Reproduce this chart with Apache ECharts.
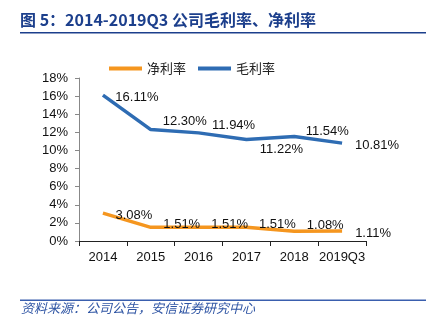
<!DOCTYPE html>
<html>
<head>
<meta charset="utf-8">
<script src="https://cdn.jsdelivr.net/npm/echarts@6/dist/echarts.min.js"></script>
<style>
  html, body { margin: 0; padding: 0; background: #fff; }
  #chart { width: 431px; height: 327px; }
</style>
</head>
<body>
<div id="chart"></div>
<script>
// Margin history, in percent
const years = ['2014', '2015', '2016', '2017', '2018', '2019Q3'];
const netMargin = [3.08, 1.51, 1.51, 1.51, 1.08, 1.11];
const grossMargin = [16.11, 12.30, 11.94, 11.22, 11.54, 10.81];
const yTicks = { min: 0, max: 18, step: 2 };

// Label placement relative to each point (px)
const grossLabelShift = [[34, 2], [34, -8], [35, -7], [35, 10], [33, -5], [35, 2]];
const netLabelShift = [[31, 2], [31, -3], [31, -3], [31, -3], [31, -6], [31, 2]];

const ORANGE = '#f5961f';
const BLUE = '#2e6cb3';
const TITLE_BLUE = '#1c3f8c';
const FONT = 'Liberation Sans, Arial, sans-serif';
const CJK = '"Noto Sans CJK SC", sans-serif';

function withLabels(values, shifts) {
  return values.map((v, i) => ({
    value: v,
    label: { offset: shifts[i] }
  }));
}

const chart = echarts.init(document.getElementById('chart'), null, { renderer: 'canvas' });

chart.setOption({
  animation: false,
  backgroundColor: '#fff',
  grid: { left: 79, right: 65, top: 78, bottom: 86, containLabel: false },
  legend: {
    left: 104,
    top: 57,
    itemWidth: 33,
    itemHeight: 4,
    itemGap: 12,
    icon: 'rect',
    textStyle: { fontFamily: CJK, fontSize: 13, color: '#222' },
    data: ['净利率', '毛利率']
  },
  xAxis: {
    type: 'category',
    data: years,
    boundaryGap: true,
    axisLine: { lineStyle: { color: '#222', width: 1 } },
    axisTick: { show: true, length: 5, interval: 0, lineStyle: { color: '#222' } },
    axisLabel: { interval: 0, fontFamily: FONT, fontSize: 13, color: '#111', margin: 10 }
  },
  yAxis: {
    type: 'value',
    min: yTicks.min,
    max: yTicks.max,
    interval: yTicks.step,
    axisLine: { show: true, lineStyle: { color: '#888', width: 1 } },
    axisTick: { show: true, inside: false, length: 4, lineStyle: { color: '#888' } },
    splitLine: { show: false },
    axisLabel: {
      fontFamily: FONT, fontSize: 13, color: '#111', margin: 11,
      formatter: v => v + '%'
    }
  },
  series: [
    {
      name: '净利率',
      type: 'line',
      data: withLabels(netMargin, netLabelShift),
      symbol: 'circle',
      symbolSize: 0,
      lineStyle: { color: ORANGE, width: 3.5 },
      itemStyle: { color: ORANGE },
      label: {
        show: true, position: 'inside',
        fontFamily: FONT, fontSize: 13, color: '#111',
        formatter: p => p.value.toFixed(2) + '%'
      },
      z: 3
    },
    {
      name: '毛利率',
      type: 'line',
      data: withLabels(grossMargin, grossLabelShift),
      symbol: 'circle',
      symbolSize: 0,
      lineStyle: { color: BLUE, width: 3.5 },
      itemStyle: { color: BLUE },
      label: {
        show: true, position: 'inside',
        fontFamily: FONT, fontSize: 13, color: '#111',
        formatter: p => p.value.toFixed(2) + '%'
      },
      z: 3
    }
  ],
  graphic: [
    {
      type: 'text', left: 20, top: 12,
      style: {
        text: '图 5：2014-2019Q3 公司毛利率、净利率',
        fill: TITLE_BLUE,
        font: 'bold 16px "Noto Sans CJK SC", sans-serif'
      }
    },
    {
      type: 'rect', shape: { x: 20, y: 32, width: 406, height: 1.5 },
      style: { fill: TITLE_BLUE }
    },
    {
      type: 'rect', shape: { x: 20, y: 299.5, width: 406, height: 1.5 },
      style: { fill: '#3a5fae' }
    },
    {
      type: 'text', left: 21, top: 302,
      style: {
        text: '资料来源：公司公告，安信证券研究中心',
        fill: '#2f55a4',
        font: 'italic 13px "Noto Sans CJK SC", sans-serif'
      }
    }
  ]
});
</script>
</body>
</html>
